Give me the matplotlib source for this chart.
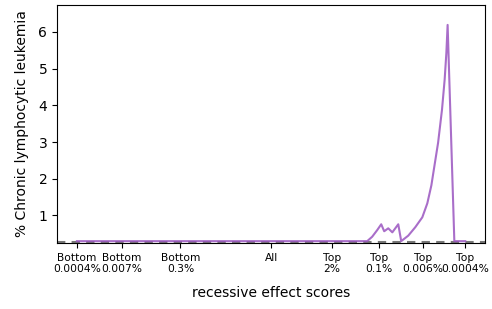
import numpy as np
import matplotlib
matplotlib.use("Agg")
import matplotlib.pyplot as plt

# x positions are logit(percentile) of recessive effect score
score_logit = [-12.43, 6.15, 6.47, 6.79, 7.05, 7.24, 7.50, 7.76, 8.14, 8.33,
               8.78, 9.23, 9.68, 10.00, 10.26, 10.40, 10.69, 10.94, 11.11,
               11.22, 11.30, 11.73, 12.43]
pct_cll = [0.30, 0.30, 0.42, 0.60, 0.76, 0.57, 0.65, 0.54, 0.76, 0.30,
           0.45, 0.68, 0.95, 1.33, 1.82, 2.20, 2.98, 3.88, 4.70,
           5.43, 6.19, 0.30, 0.30]
baseline = 0.28

tick_frac = [4e-6, 7e-5, 3e-3, 0.5, 0.98, 0.999, 0.99994, 0.999996]
tick_labels = ["Bottom\n0.0004%", "Bottom\n0.007%", "Bottom\n0.3%", "All",
               "Top\n2%", "Top\n0.1%", "Top\n0.006%", "Top\n0.0004%"]

fig = plt.figure(figsize=(4.92, 3.09), dpi=100)
ax = fig.add_axes([0.116, 0.2136, 0.870, 0.770])

ax.axhline(baseline, color="#555555", ls="--", lw=1.5, dashes=(4, 3), alpha=0.8)
ax.plot(score_logit, pct_cll, color="#9a55c0", lw=1.5, alpha=0.85)

tick_pos = [np.log(p / (1 - p)) for p in tick_frac]
ax.set_xticks(tick_pos)
ax.set_xticklabels(tick_labels, fontsize=7.7, linespacing=1.15)
ax.set_xlim(-13.7, 13.7)
ax.set_ylim(0.25, 6.73)
ax.set_yticks([1, 2, 3, 4, 5, 6])
ax.tick_params(axis="y", labelsize=10)
ax.set_xlabel("recessive effect scores", fontsize=10, labelpad=9)
ax.set_ylabel("% Chronic lymphocytic leukemia", fontsize=10, labelpad=7)

fig.savefig("out.png", dpi=100)
